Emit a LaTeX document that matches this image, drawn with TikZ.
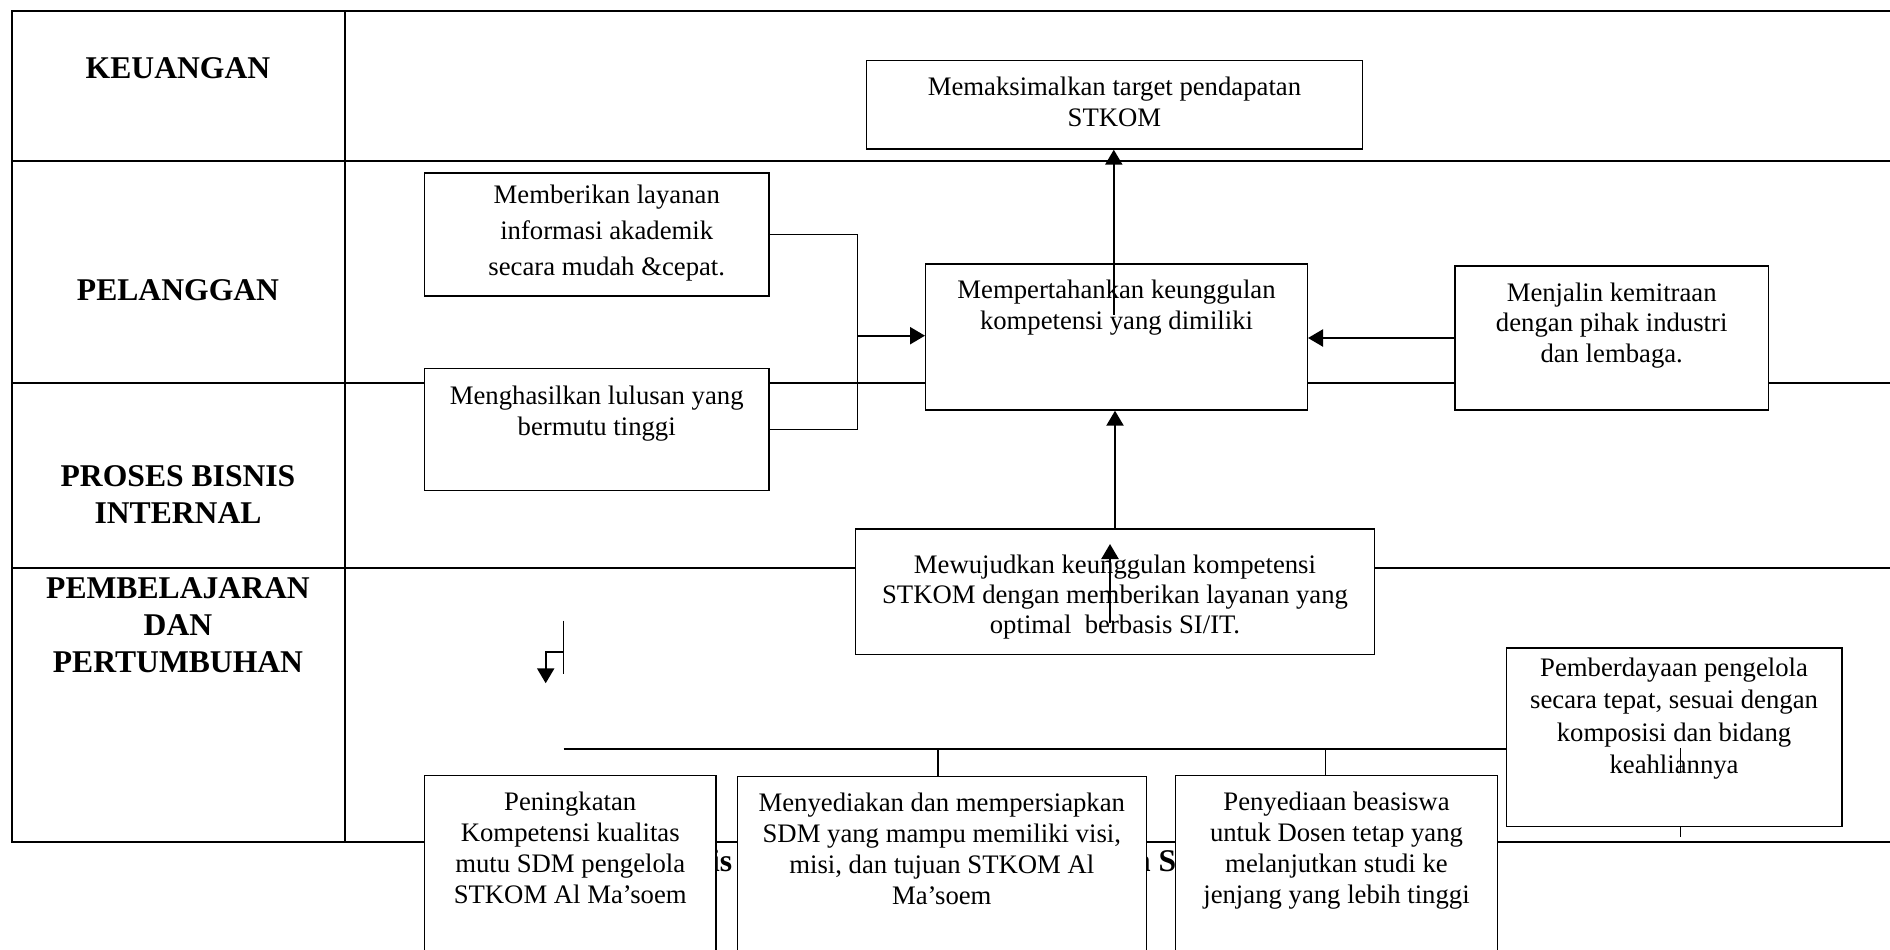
\documentclass[tikz,border=0pt]{standalone}
\usepackage{fontspec}
\setmainfont{Liberation Serif}
\usetikzlibrary{calc,arrows.meta}
\tikzset{
    goal/.style={
        draw,
        line width=0.4pt,
        fill=white,
        anchor=north west,
        inner sep=0pt
    },
    goaltext/.style={
        anchor=north,
        inner sep=0pt,
        align=center,
        font=\fontsize{7.6}{8.8}\selectfont
    },
    perspective/.style={
        align=center,
        inner sep=0pt,
        font=\fontsize{9}{10.5}\selectfont\bfseries
    },
    grid/.style={line width=0.6pt},
    link/.style={line width=0.4pt},
    linkarrow/.style={
        line width=0.65pt,
        -{Triangle[length=1.5mm,width=1.7mm]}
    }
}

\begin{document}
\begin{tikzpicture}
    \useasboundingbox (0,0) rectangle (18.9,-9.5);
    \clip (0,0) rectangle (18.9,-9.5);

    %% Table
    \draw[grid] (18.9,-0.11) -- (0.12,-0.11) -- (0.12,-8.417) -- (18.9,-8.417);
    \draw[grid] (3.447,-0.11) -- (3.447,-8.417);
    \foreach \y in {-1.607,-3.827,-5.677}
        \draw[grid] (0.12,\y) -- (18.9,\y);

    \node (T1) [perspective] at (1.78,-0.683) {KEUANGAN};
    \node (T2) [perspective] at (1.78,-2.90) {PELANGGAN};
    \node (T3) [perspective] at (1.78,-4.948) {PROSES BISNIS\\INTERNAL};
    \node (T4) [perspective] at (1.78,-6.25) {PEMBELAJARAN\\DAN\\PERTUMBUHAN};

    %% caption, mostly under the boxes
    \node (F1) [perspective,anchor=base east] at (7.33,-8.717) {is};
    \node (F2) [perspective,anchor=base east] at (11.77,-8.717) {n S};

    %% Keuangan
    \node (K1) [goal,minimum width=4.955cm,minimum height=0.883cm] at (8.66,-0.60) {};
    \node[goaltext] at ($(K1.north)+(0,-0.165)$) {Memaksimalkan target pendapatan\\STKOM};

    %% Pelanggan
    \node (P1) [goal,minimum width=3.447cm,minimum height=1.23cm] at (4.237,-1.723) {};
    \node[goaltext,font=\fontsize{7.6}{10.2}\selectfont] at ($(P1.north)+(0.1,-0.12)$) {Memberikan layanan\\informasi akademik\\secara mudah \&cepat.};

    \node (P2) [goal,minimum width=3.816cm,minimum height=1.46cm] at (9.25,-2.633) {};
    \node[goaltext] at ($(P2.north)+(0,-0.16)$) {Mempertahankan keunggulan\\kompetensi yang dimiliki};

    \node (P3) [goal,minimum width=3.134cm,minimum height=1.44cm] at (14.543,-2.653) {};
    \node[goaltext] at ($(P3.north)+(0,-0.165)$) {Menjalin kemitraan\\dengan pihak industri\\dan lembaga.};

    %% Proses bisnis internal
    \node (I1) [goal,minimum width=3.447cm,minimum height=1.223cm] at (4.237,-3.677) {};
    \node[goaltext] at ($(I1.north)+(0,-0.175)$) {Menghasilkan lulusan yang\\bermutu tinggi};

    %% Pembelajaran dan pertumbuhan
    \node (L1) [goal,minimum width=5.194cm,minimum height=1.257cm] at (8.546,-5.283) {};
    \node[goaltext,font=\fontsize{7.6}{8.6}\selectfont] at ($(L1.north)+(0,-0.255)$) {Mewujudkan keunggulan kompetensi\\STKOM dengan memberikan layanan yang\\optimal\ \ berbasis SI/IT.};

    \node (L2) [goal,minimum width=3.357cm,minimum height=1.784cm] at (15.055,-6.473) {};
    \node[goaltext,font=\fontsize{7.6}{9.2}\selectfont] at ($(L2.north)+(0,-0.10)$) {Pemberdayaan pengelola\\secara tepat, sesuai dengan\\komposisi dan bidang\\keahliannya};

    \node (L3) [goal,minimum width=2.917cm,minimum height=2.5cm] at (4.237,-7.75) {};
    \node[goaltext] at ($(L3.north)+(0,-0.16)$) {Peningkatan\\Kompetensi kualitas\\mutu SDM pengelola\\STKOM Al Ma’soem};

    \node (L4) [goal,minimum width=4.092cm,minimum height=2.5cm] at (7.365,-7.76) {};
    \node[goaltext] at ($(L4.north)+(0,-0.16)$) {Menyediakan dan mempersiapkan\\SDM yang mampu memiliki visi,\\misi, dan tujuan STKOM Al\\Ma’soem};

    \node (L5) [goal,minimum width=3.224cm,minimum height=2.5cm] at (11.746,-7.75) {};
    \node[goaltext] at ($(L5.north)+(0,-0.16)$) {Penyediaan beasiswa\\untuk Dosen tetap yang\\melanjutkan studi ke\\jenjang yang lebih tinggi};

    %% Links
    \coordinate (J1) at (8.576,-3.357);
    \draw[link] (P1.east) -| (J1) |- (I1.east);
    \draw[linkarrow] (J1) -- (J1 -| P2.west);

    \coordinate (U1) at (11.138,-3.15);
    \draw[linkarrow] (U1) -- (U1 |- K1.south);
    \draw[linkarrow] (P3.west) -- (P3.west -| P2.east);
    \draw[linkarrow] (L1.north) -- (L1.north |- P2.south);

    \coordinate (U2) at (11.10,-6.23);
    \coordinate (U3) at (11.10,-5.44);
    \draw[linkarrow] (U2) -- (U3);

    \coordinate (S1) at (5.633,-6.207);
    \coordinate (S2) at (5.633,-6.74);
    \coordinate (S3) at (5.457,-6.523);
    \coordinate (S4) at (5.457,-6.833);
    \draw[link] (S1) -- (S2);
    \draw[linkarrow] (S2 |- S3) -- (S3) -- (S4);

    \coordinate (B0) at (5.635,-7.49);
    \coordinate (D1) at (9.378,-7.76);
    \coordinate (D2) at (13.253,-7.75);
    \draw[link] (B0) -- (B0 -| L2.west);
    \draw[link] (D1 |- B0) -- (D1);
    \draw[link] (D2 |- B0) -- (D2);

    \coordinate (E1) at (16.807,-7.483);
    \coordinate (E2) at (16.807,-7.72);
    \coordinate (E3) at (16.807,-8.37);
    \draw[link] (E1) -- (E2);
    \draw[link] (E1 |- L2.south) -- (E3);

\end{tikzpicture}
\end{document}
